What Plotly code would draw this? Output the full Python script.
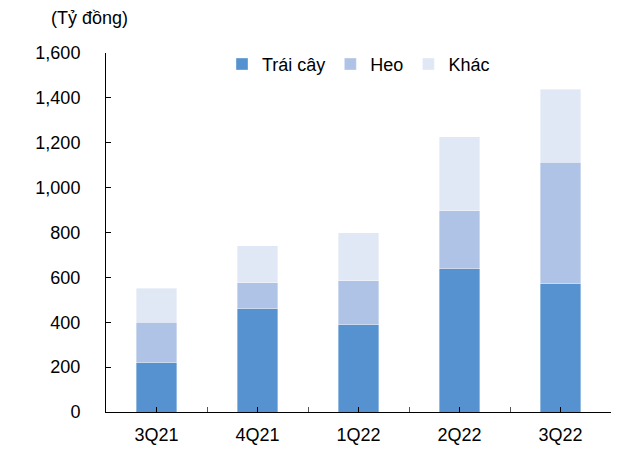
import plotly.graph_objects as go

# Quarterly revenue by segment (billion VND)
quarters = ["3Q21", "4Q21", "1Q22", "2Q22", "3Q22"]
trai_cay = [219, 461, 388, 638, 572]
heo = [182, 116, 196, 259, 542]
khac = [151, 163, 216, 330, 324]

series = [
    ("Trái cây", trai_cay, "#5592CF"),
    ("Heo", heo, "#AEC3E5"),
    ("Khác", khac, "#E0E8F6"),
]

x_pos = list(range(len(quarters)))
font_family = "Liberation Sans, Arial, sans-serif"

fig = go.Figure()
for name, values, color in series:
    fig.add_trace(go.Bar(
        x=x_pos,
        y=values,
        name=name,
        width=0.4,
        marker=dict(color=color, line=dict(color="rgba(255,255,255,0.6)", width=0.6)),
    ))

fig.update_layout(
    barmode="stack",
    width=638,
    height=450,
    margin=dict(l=106, r=27, t=53, b=38),
    paper_bgcolor="white",
    plot_bgcolor="white",
    font=dict(family=font_family, size=18, color="#000000"),
    showlegend=True,
    legend=dict(
        orientation="h",
        x=0.5,
        xanchor="center",
        y=1.02,
        yanchor="top",
        font=dict(size=18),
        itemwidth=30,
        traceorder="normal",
        bgcolor="rgba(0,0,0,0)",
    ),
    annotations=[dict(
        text="(Tỷ đồng)",
        xref="paper", yref="paper",
        x=-0.113, y=1.098,
        xanchor="left", yanchor="middle",
        showarrow=False,
        font=dict(size=18),
    )],
)

fig.update_xaxes(
    range=[-0.5, len(quarters) - 0.5],
    tickvals=x_pos,
    ticktext=quarters,
    showgrid=False,
    zeroline=False,
    showline=True,
    linecolor="#000000",
    linewidth=1,
    ticks="inside",
    ticklen=5,
    tickcolor="#000000",
    ticklabelstandoff=6,
    minor=dict(dtick=0.5, tick0=-0.5, ticks="inside", ticklen=5, tickcolor="#555555", showgrid=False),
    automargin=False,
    fixedrange=True,
)

fig.update_yaxes(
    range=[0, 1600],
    dtick=200,
    tickformat=",",
    showgrid=False,
    zeroline=False,
    showline=True,
    linecolor="#000000",
    linewidth=1,
    ticks="inside",
    ticklen=5,
    tickcolor="#000000",
    ticklabelstandoff=21,
    automargin=False,
    fixedrange=True,
)

fig.write_html("out.html")
